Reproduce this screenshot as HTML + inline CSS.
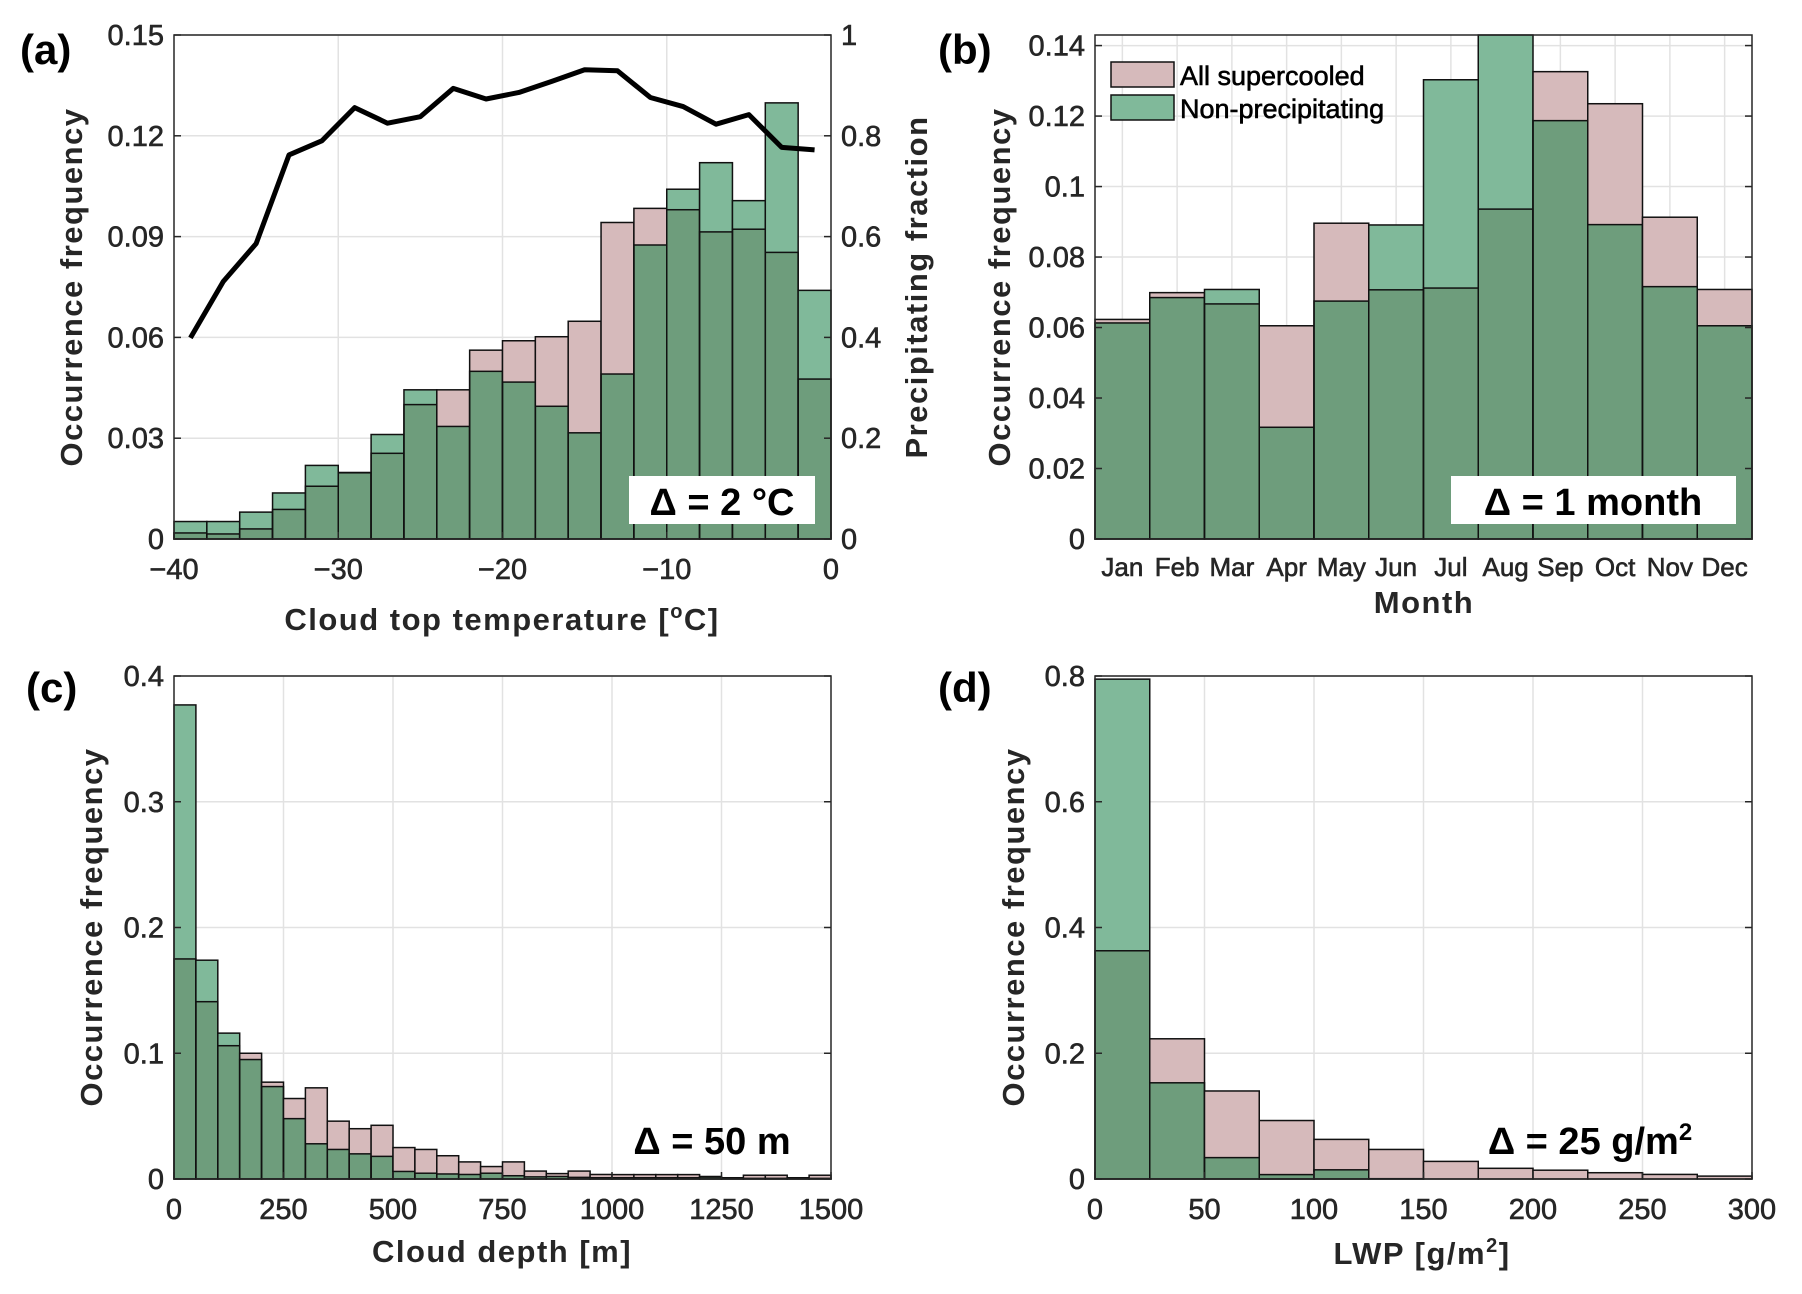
<!DOCTYPE html>
<html><head><meta charset="utf-8"><style>
html,body{margin:0;padding:0;background:#fff;}
svg{display:block;font-family:"Liberation Sans",sans-serif;}
.tick{font-size:29px;font-weight:normal;fill:#262626;stroke:#262626;stroke-width:0.6;}
.mtick{font-size:26px;font-weight:normal;fill:#262626;stroke:#262626;stroke-width:0.6;}
.albl{font-size:31px;font-weight:bold;fill:#262626;letter-spacing:1.5px;}
.plbl{font-size:42px;font-weight:bold;fill:#000;}
.ann{font-size:38px;font-weight:bold;fill:#000;}
.leg{font-size:27px;font-weight:normal;fill:#000;stroke:#000;stroke-width:0.6;}
</style></head><body>
<svg id="fig" width="1802" height="1294" viewBox="0 0 1802 1294"></svg>
<script>
// ---------- data ----------
const tempBins = [-40,-38,-36,-34,-32,-30,-28,-26,-24,-22,-20,-18,-16,-14,-12,-10,-8,-6,-4,-2];
const tempAll = [0.0018,0.0015,0.003,0.0088,0.0157,0.0198,0.0255,0.040,0.0444,0.0562,0.059,0.0602,0.0648,0.0942,0.0984,0.098,0.0914,0.0922,0.0853,0.0476];
const tempNonPrecip = [0.0052,0.0052,0.008,0.0137,0.0219,0.0197,0.0311,0.0444,0.0335,0.0499,0.0467,0.0395,0.0316,0.0491,0.0875,0.1041,0.112,0.1007,0.1298,0.074];
const fracX = [-39,-37,-35,-33,-31,-29,-27,-25,-23,-21,-19,-17,-15,-13,-11,-9,-7,-5,-3,-1];
const fracY = [0.399,0.511,0.586,0.762,0.79,0.856,0.825,0.838,0.894,0.873,0.886,0.908,0.931,0.929,0.876,0.858,0.823,0.842,0.777,0.772];
const months = ["Jan","Feb","Mar","Apr","May","Jun","Jul","Aug","Sep","Oct","Nov","Dec"];
const monthAll = [0.0623,0.0699,0.0667,0.0605,0.0896,0.0707,0.0712,0.0936,0.1326,0.1235,0.0913,0.0708];
const monthNonPrecip = [0.0613,0.0685,0.0708,0.0317,0.0675,0.0891,0.1303,0.146,0.1187,0.0892,0.0716,0.0605];
const depthBins = [0,50,100,150,200,250,300,350,400,450,500,550,600,650,700,750,800,850,900,950,1000,1050,1100,1150,1200,1250,1300,1350,1400,1450];
const depthAll = [0.175,0.141,0.106,0.100,0.077,0.064,0.0725,0.046,0.040,0.0427,0.025,0.0235,0.0185,0.0136,0.0099,0.0136,0.0063,0.0043,0.0063,0.0036,0.0035,0.0035,0.0035,0.0035,0.002,0.001,0.003,0.003,0.001,0.003];
const depthNonPrecip = [0.377,0.174,0.116,0.095,0.0735,0.048,0.028,0.0235,0.020,0.018,0.006,0.0046,0.004,0.0036,0.0046,0.0026,0.0017,0.002,0.0013,0.001,0.001,0.001,0.001,0.001,0.0015,0.0005,0.0005,0.0005,0.0005,0.0005];
const lwpBins = [0,25,50,75,100,125,150,175,200,225,250,275];
const lwpAll = [0.363,0.223,0.140,0.093,0.063,0.047,0.028,0.017,0.014,0.010,0.0073,0.0046];
const lwpNonPrecip = [0.795,0.153,0.034,0.007,0.0146,0.0005,0,0,0,0,0,0];

const svg = document.getElementById('fig');
const NS = 'http://www.w3.org/2000/svg';
function mk(tag, attrs, parent, txt){
  const e = document.createElementNS(NS, tag);
  for (const k in attrs) e.setAttribute(k, attrs[k]);
  if (txt !== undefined) e.textContent = txt;
  (parent || svg).appendChild(e);
  return e;
}
const PINK = '#d6babb', GREEN = '#80b99a', OVER = '#6e9d7c';

function panel(o){
  const g = mk('g', {});
  
  
  const X = v => o.x0 + (v - o.xmin) / (o.xmax - o.xmin) * (o.x1 - o.x0);
  const Y = v => o.y1 - (Math.min(v, o.ymax) - 0) / o.ymax * (o.y1 - o.y0);
  o.xgrid.forEach(v => { mk('line', {x1:X(v),x2:X(v),y1:o.y0,y2:o.y1,stroke:'#e2e2e2','stroke-width':1.5}, g); });
  o.yticks.forEach(v => { mk('line', {x1:o.x0,x2:o.x1,y1:Y(v),y2:Y(v),stroke:'#e2e2e2','stroke-width':1.5}, g); });
  for (let i = 0; i < o.bins.length; i++){
    const xa = X(o.bins[i]), xb = X(o.bins[i] + o.w);
    const a = o.all[i], n = o.np[i], lo = Math.min(a, n), hi = Math.max(a, n);
    const r1 = mk('rect', {x:xa,y:Y(hi),width:xb-xa,height:Y(lo)-Y(hi),fill:(n>a?GREEN:PINK)}, g);
    
    
    const r2 = mk('rect', {x:xa,y:Y(lo),width:xb-xa,height:Y(0)-Y(lo),fill:OVER}, g);
    
    
    if (a > 0) mk('rect', {x:xa,y:Y(a),width:xb-xa,height:Y(0)-Y(a),fill:'none',stroke:'#111','stroke-width':1.5}, g);
    if (n > 0) mk('rect', {x:xa,y:Y(n),width:xb-xa,height:Y(0)-Y(n),fill:'none',stroke:'#111','stroke-width':1.5}, g);
  }
  mk('rect', {x:o.x0,y:o.y0,width:o.x1-o.x0,height:o.y1-o.y0,fill:'none',stroke:'#262626','stroke-width':1.5}, g);
  o.yticks.forEach((v,i) => {
    mk('line', {x1:o.x0,x2:o.x0+7,y1:Y(v),y2:Y(v),stroke:'#262626','stroke-width':1.5}, g);
    mk('line', {x1:o.x1,x2:o.x1-7,y1:Y(v),y2:Y(v),stroke:'#262626','stroke-width':1.5}, g);
    const t = mk('text', {x:o.x0-10,y:Y(v)+10,'text-anchor':'end',class:'tick'}, g, o.ylabels[i]);
    
    
  });
  o.xticks.forEach((v,i) => {
    mk('line', {x1:X(v),x2:X(v),y1:o.y1,y2:o.y1-7,stroke:'#262626','stroke-width':1.5}, g);
    const t = mk('text', {x:X(v),y:o.y1+40,'text-anchor':'middle',class:'tick'}, g, o.xlabels[i]);
    
    
  });
  return {g, X, Y};
}

const pa = panel({name:'panel-a', x0:174,x1:831,y0:35,y1:539,xmin:-40,xmax:0,ymax:0.15,
  bins:tempBins,w:2,all:tempAll,np:tempNonPrecip,
  xgrid:[-30,-20,-10], yticks:[0,0.03,0.06,0.09,0.12,0.15], ylabels:['0','0.03','0.06','0.09','0.12','0.15'],
  xticks:[-40,-30,-20,-10,0], xlabels:['\u221240','\u221230','\u221220','\u221210','0']});
const rTicks = [0,0.2,0.4,0.6,0.8,1], rLabels = ['0','0.2','0.4','0.6','0.8','1'];
const YR = v => 539 - v * (539 - 35);
rTicks.forEach((v,i) => {
  const t = mk('text', {x:841,y:YR(v)+10,class:'tick'}, pa.g, rLabels[i]);
  
  
});
const linePts = fracX.map((x,i) => pa.X(x) + ',' + YR(fracY[i])).join(' ');
const pl = mk('polyline', {points:linePts,fill:'none',stroke:'#000','stroke-width':5,'stroke-linejoin':'round'}, pa.g);



const pb = panel({name:'panel-b', x0:1095,x1:1752,y0:35,y1:539,xmin:0,xmax:12,ymax:0.143,
  bins:months.map((m,i)=>i),w:1,all:monthAll,np:monthNonPrecip,
  xgrid:months.map((m,i)=>i+0.5), yticks:[0,0.02,0.04,0.06,0.08,0.1,0.12,0.14], ylabels:['0','0.02','0.04','0.06','0.08','0.1','0.12','0.14'],
  xticks:[], xlabels:[]});
months.forEach((m,i) => {
  const t = mk('text', {x:pb.X(i+0.5),y:576,'text-anchor':'middle',class:'mtick'}, pb.g, m);
  
  
});

panel({name:'panel-c', x0:174,x1:831,y0:676,y1:1179,xmin:0,xmax:1500,ymax:0.4,
  bins:depthBins,w:50,all:depthAll,np:depthNonPrecip,
  xgrid:[250,500,750,1000,1250], yticks:[0,0.1,0.2,0.3,0.4], ylabels:['0','0.1','0.2','0.3','0.4'],
  xticks:[0,250,500,750,1000,1250,1500], xlabels:['0','250','500','750','1000','1250','1500']});

panel({name:'panel-d', x0:1095,x1:1752,y0:676,y1:1179,xmin:0,xmax:300,ymax:0.8,
  bins:lwpBins,w:25,all:lwpAll,np:lwpNonPrecip,
  xgrid:[50,100,150,200,250], yticks:[0,0.2,0.4,0.6,0.8], ylabels:['0','0.2','0.4','0.6','0.8'],
  xticks:[0,50,100,150,200,250,300], xlabels:['0','50','100','150','200','250','300']});
</script>
<svg width="1802" height="1294" style="position:absolute;left:0;top:0">
  <g font-family="Liberation Sans, sans-serif">
  <text class="plbl" x="20" y="64">(a)</text>
  <text class="plbl" x="938" y="64">(b)</text>
  <text class="plbl" x="26" y="702">(c)</text>
  <text class="plbl" x="938" y="702">(d)</text>

  <text class="albl" transform="translate(82,287) rotate(-90)" text-anchor="middle">Occurrence frequency</text>
  <text class="albl" transform="translate(927,287) rotate(-90)" text-anchor="middle">Precipitating fraction</text>
  <text class="albl" transform="translate(1010,287) rotate(-90)" text-anchor="middle">Occurrence frequency</text>
  <text class="albl" transform="translate(102,927) rotate(-90)" text-anchor="middle">Occurrence frequency</text>
  <text class="albl" transform="translate(1024,927) rotate(-90)" text-anchor="middle">Occurrence frequency</text>

  <text class="albl" x="502" y="630" text-anchor="middle">Cloud top temperature [<tspan dy="-12" font-size="20">o</tspan><tspan dy="12">C]</tspan></text>
  <text class="albl" x="1424" y="613" text-anchor="middle">Month</text>
  <text class="albl" x="502" y="1262" text-anchor="middle">Cloud depth [m]</text>
  <text class="albl" x="1422" y="1264" text-anchor="middle">LWP [g/m<tspan dy="-12" font-size="20">2</tspan><tspan dy="12">]</tspan></text>

  <rect x="629" y="476" width="186" height="48" fill="#fff"/>
  <text class="ann" x="722" y="515" text-anchor="middle">Δ = 2 °C</text>
  <rect x="1451" y="476" width="285" height="48" fill="#fff"/>
  <text class="ann" x="1593" y="515" text-anchor="middle">Δ = 1 month</text>
  <text class="ann" x="712" y="1154" text-anchor="middle">Δ = 50 m</text>
  <text class="ann" x="1590" y="1154" text-anchor="middle">Δ = 25 g/m<tspan dy="-14" font-size="24">2</tspan></text>

  <g>
    <rect x="1111" y="62" width="63" height="25" fill="#d6babb" stroke="#111" stroke-width="1.5"/>
    <text class="leg" x="1180" y="85">All supercooled</text>
    <rect x="1111" y="95" width="63" height="25" fill="#80b99a" stroke="#111" stroke-width="1.5"/>
    <text class="leg" x="1180" y="118">Non-precipitating</text>
  </g>
  </g>
</svg>
</body></html>
